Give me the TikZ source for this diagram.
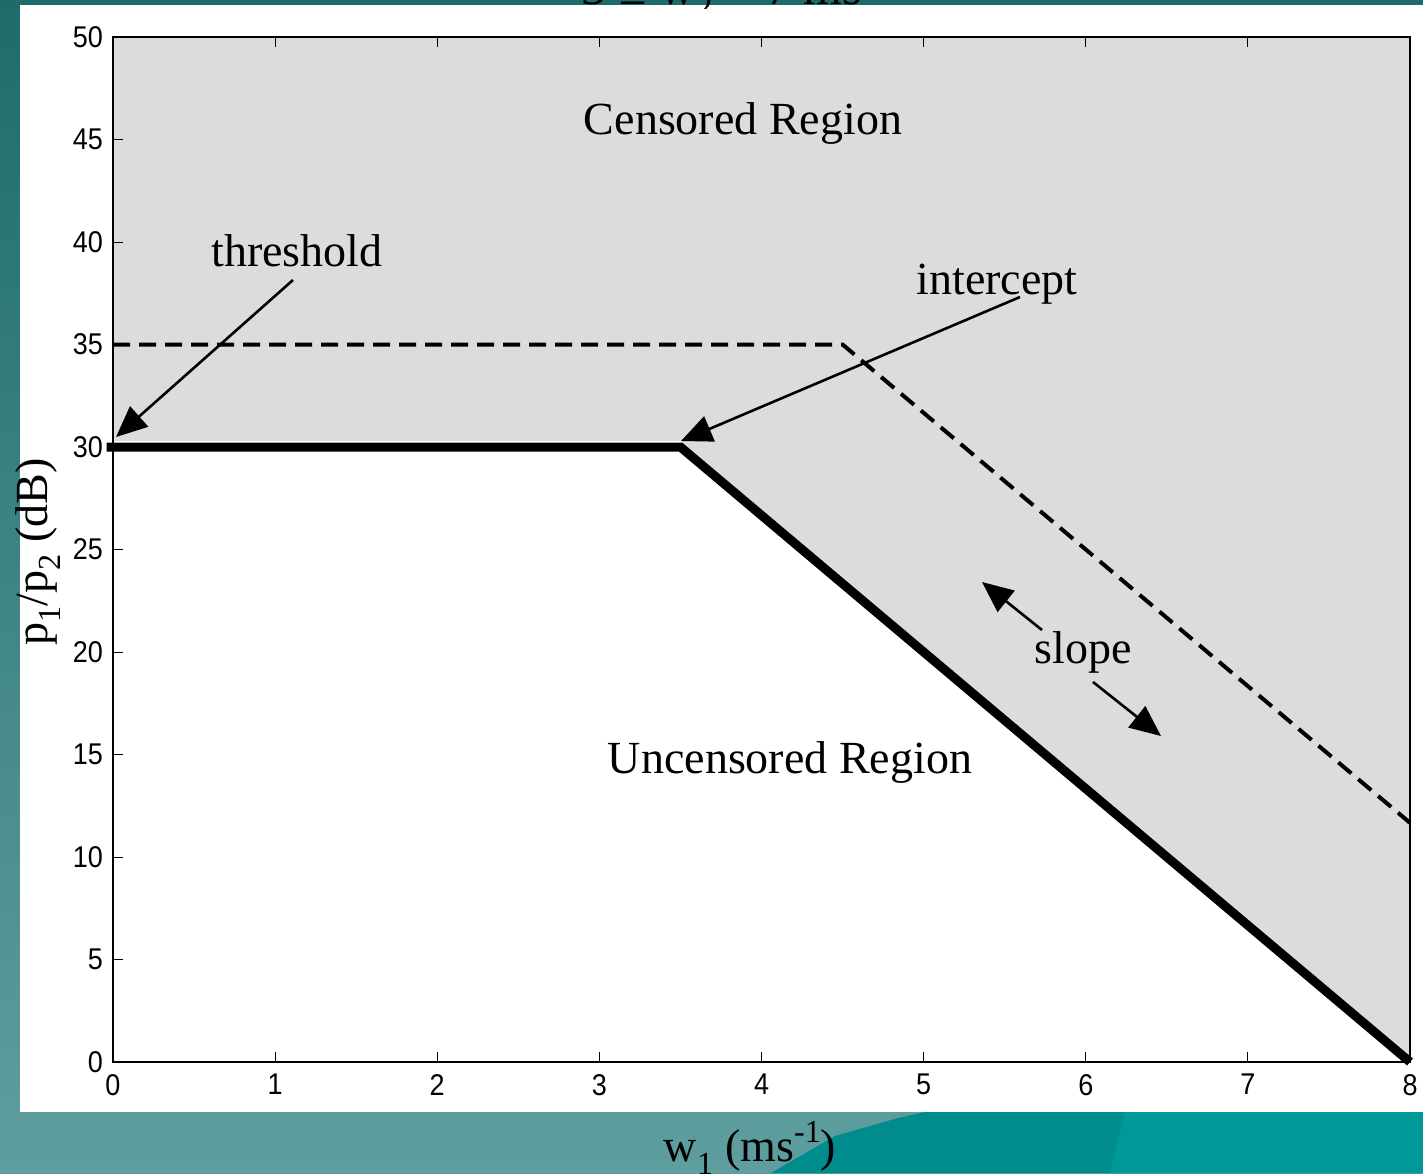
\documentclass[tikz,border=0pt]{standalone}
\usepackage{fontspec}
\setmainfont{Liberation Serif}
\newfontfamily\ticksf[FakeStretch=0.9]{Liberation Sans}
\usetikzlibrary{arrows.meta}
\definecolor{tealtop}{RGB}{31,107,107}
\definecolor{tealbot}{RGB}{95,158,158}
\definecolor{tealbright}{RGB}{0,140,140}
\definecolor{tealbright2}{RGB}{0,152,152}
\definecolor{regiongray}{RGB}{220,220,220}
\begin{document}
\begin{tikzpicture}[x=1pt,y=-1pt,
  lbl/.style={font=\fontsize{46}{50}\selectfont, inner sep=0pt},
  ticklbl/.style={font=\ticksf\fontsize{30}{32}\selectfont, inner sep=0pt},
  pointer/.style={line width=2.6pt, -{Triangle[length=31pt,width=27pt]}},
  tickmark/.style={line width=1pt}]
\useasboundingbox (0,0) rectangle (1423,1173);
% background
\shade[top color=tealtop, bottom color=tealbot] (0,0) rectangle (1423,1173);
\fill[tealbright] (771,1173) -- (835,1136) -- (898,1118) -- (925,1112) -- (1423,1112) -- (1423,1173) -- cycle;
\fill[tealbright2] (1110,1173) -- (1125,1112) -- (1423,1112) -- (1423,1173) -- cycle;
% white panel
\fill[white] (20,5) rectangle (1423,1112);
% clipped title (cut off at the top edge, as in the original)
\begin{scope}
\clip (0,0) rectangle (1423,8);
\node[font=\fontsize{50}{54}\selectfont, inner sep=0pt, anchor=base] (title) at (722,4) {3 ≤ w\textsubscript{2} < 7 ms};
\end{scope}
% plot
\begin{scope}[shift={(113,1062)}, x=162.125pt, y=20.5pt]
\fill[regiongray] (0,30.3) -- (3.5,30.3) -- (8,0) -- (8,50) -- (0,50) -- cycle;
\draw[line width=4pt, dash pattern=on 17pt off 9pt] (0,35) -- (4.5,35) -- (8,11.667);
\draw[line width=9pt, line join=miter] (-0.04,30) -- (3.5,30) -- (8,0);
\draw[line width=2pt] (0,0) rectangle (8,50);
\foreach \i in {0,...,8} {
  \draw[tickmark] (\i,0) -- ++(0,10pt);
  \draw[tickmark] (\i,50) -- ++(0,-10pt);
  \node[ticklbl, anchor=north] (xt\i) at ([yshift=-12pt]\i,0) {\i};
}
\foreach \j in {0,5,...,50} {
  \draw[tickmark] (0,\j) -- ++(10pt,0);
  \node[ticklbl, anchor=east] (yt\j) at ([xshift=-10pt]0,\j) {\j};
}
\end{scope}
% axis labels
\node[lbl, rotate=90] (ylab) at (38,552) {p\textsubscript{1}/p\textsubscript{2} (dB)};
\node[lbl] (xlab) at (750,1148) {w\textsubscript{1} (ms\raisebox{0.42em}{\fontsize{32}{34}\selectfont -1})};
% region labels
\node[lbl] (cens) at (743,124) {Censored Region};
\node[lbl] (uncens) at (790,762) {Uncensored Region};
% annotations
\node[lbl] (thr) at (297,251) {threshold};
\node[lbl] (icp) at (997,284) {intercept};
\node[lbl] (slope) at (1083,652) {slope};
\coordinate (thrstart) at (293,280);
\coordinate (thrtip) at (116,437);
\coordinate (icpstart) at (1020,297);
\coordinate (icptip) at (681,441);
\coordinate (slstartA) at (1042,630);
\coordinate (sltipA) at (982,582);
\coordinate (slstartB) at (1093,682);
\coordinate (sltipB) at (1161,736);
\draw[pointer] (thrstart) -- (thrtip);
\draw[pointer] (icpstart) -- (icptip);
\draw[pointer] (slstartA) -- (sltipA);
\draw[pointer] (slstartB) -- (sltipB);
\end{tikzpicture}
\end{document}
